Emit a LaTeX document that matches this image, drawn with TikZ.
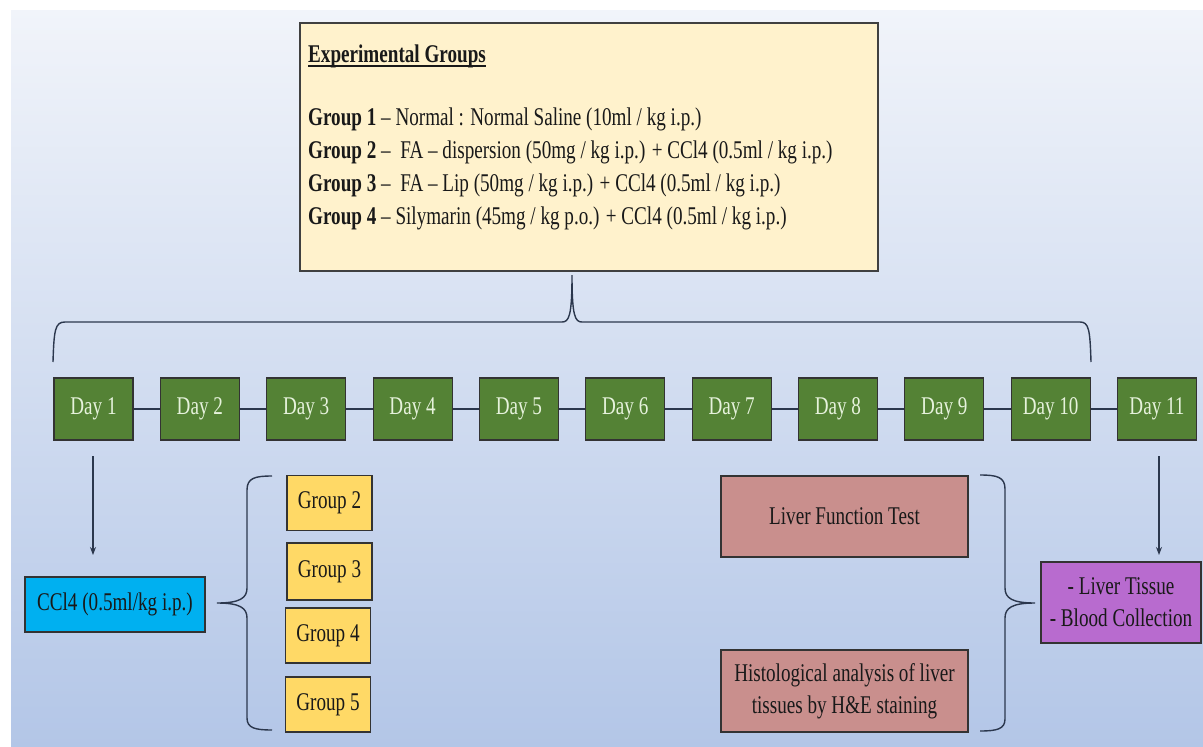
\documentclass[tikz,border=0pt]{standalone}
\usepackage{fontspec}
\setmainfont{Liberation Serif}[FakeStretch=0.75]
\usetikzlibrary{arrows.meta}
\definecolor{daygreen}{HTML}{548235}
\definecolor{daytext}{HTML}{E6F2DC}
\definecolor{boxyellow}{HTML}{FFF2CC}
\definecolor{grpyellow}{HTML}{FFD966}
\definecolor{ccblue}{HTML}{00B0F0}
\definecolor{rosebox}{HTML}{C98F8D}
\definecolor{orchidbox}{HTML}{B86BCF}
\definecolor{linecol}{HTML}{2B374D}
\definecolor{bgtop}{HTML}{F1F4FA}
\definecolor{bgmid}{HTML}{CBD8EE}
\definecolor{bgbot}{HTML}{B3C6E7}
\begin{document}
\begin{tikzpicture}[x=1pt,y=-1pt,
  every node/.style={font=\fontsize{25.5}{32}\selectfont, inner sep=0pt},
  box/.style={draw=black!80, line width=1.1pt, align=center, text=black!90},
  daybox/.style={box, fill=daygreen, text=daytext, minimum width=79pt, minimum height=62pt},
  grpbox/.style={box, fill=grpyellow, minimum width=85pt, minimum height=55pt},
  link/.style={draw=linecol, line width=1.2pt},
  arr/.style={link, -{Stealth[length=8pt,width=6pt]}},
  bracestyle/.style={draw=linecol, line width=1.4pt},
  txt/.style={anchor=base west, text=black!90}
]
\useasboundingbox (0,0) rectangle (1203,747);
\shade[top color=bgtop, middle color=bgmid, bottom color=bgbot] (11,10) rectangle (1203,747);

% Experimental groups box
\node[box, draw=black!75, line width=1.5pt, fill=boxyellow, minimum width=578pt, minimum height=248pt] (exp) at (589,147) {};
\node[txt] (title) at (308,62) {\textbf{Experimental Groups}};
\draw[line width=1.4pt, black!90] ([yshift=-4pt]title.base west) -- ([yshift=-4pt]title.base east);
\node[txt] (g1) at (308,125) {\textbf{Group 1} – Normal : Normal Saline (10ml / kg i.p.)};
\node[txt] (g2) at (308,158) {\textbf{Group 2} –\ \ FA – dispersion (50mg / kg i.p.) + CCl4 (0.5ml / kg i.p.)};
\node[txt] (g3) at (308,191) {\textbf{Group 3} –\ \ FA – Lip (50mg / kg i.p.) + CCl4 (0.5ml / kg i.p.)};
\node[txt] (g4) at (308,224) {\textbf{Group 4} – Silymarin (45mg / kg p.o.) + CCl4 (0.5ml / kg i.p.)};

% top brace
\draw[bracestyle] (53,362) .. controls (54,330) and (55,322) .. (65,322) -- (562,322)
  .. controls (569,322) and (572,316) .. (572,275)
  .. controls (572,316) and (575,322) .. (582,322) -- (1080,322)
  .. controls (1089,322) and (1090,330) .. (1091,362);

% days
\foreach \i in {1,...,11}
  \node[daybox] (d\i) at ({93.5+106.35*(\i-1)},409) {Day \i};
\foreach \i [evaluate=\i as \j using int(\i+1)] in {1,...,10}
  \draw[link] (d\i) -- (d\j);

% CCl4 branch
\node[box, fill=ccblue, minimum width=180pt, minimum height=55pt] (ccl) at (115,604.5) {CCl4 (0.5ml/kg i.p.)};
\coordinate (a1s) at (93,456);
\coordinate (a1e) at (93,555);
\draw[arr] (a1s) -- (a1e);

\draw[bracestyle] (272,476) .. controls (255,476) and (247,478) .. (247,490) -- (247,588)
  .. controls (247,598) and (240,603) .. (217,603)
  .. controls (240,603) and (247,608) .. (247,618) -- (247,718)
  .. controls (247,728) and (255,730) .. (272,730);

\node[grpbox] (gb2) at (329.5,503) {Group 2};
\node[grpbox, minimum height=57pt] (gb3) at (329.5,571.5) {Group 3};
\node[grpbox] (gb4) at (328,635.5) {Group 4};
\node[grpbox] (gb5) at (328,704.5) {Group 5};

% analysis branch
\node[box, fill=rosebox, minimum width=247pt, minimum height=81pt] (lft) at (844.5,516.5) {Liver Function Test};
\node[box, fill=rosebox, minimum width=247pt, minimum height=82pt] (his) at (844.5,691) {Histological analysis of liver\\tissues by H\&E staining};

\draw[bracestyle] (980,475) .. controls (997,475) and (1005,477) .. (1005,489) -- (1005,588)
  .. controls (1005,598) and (1012,603) .. (1035,603)
  .. controls (1012,603) and (1005,608) .. (1005,618) -- (1005,719)
  .. controls (1005,729) and (997,731) .. (980,731);

\node[box, fill=orchidbox, minimum width=160pt, minimum height=81pt] (col) at (1121,602.5) {- Liver Tissue\\- Blood Collection};
\coordinate (a2s) at (1159,456);
\coordinate (a2e) at (1159,555);
\draw[arr] (a2s) -- (a2e);
\end{tikzpicture}
\end{document}
